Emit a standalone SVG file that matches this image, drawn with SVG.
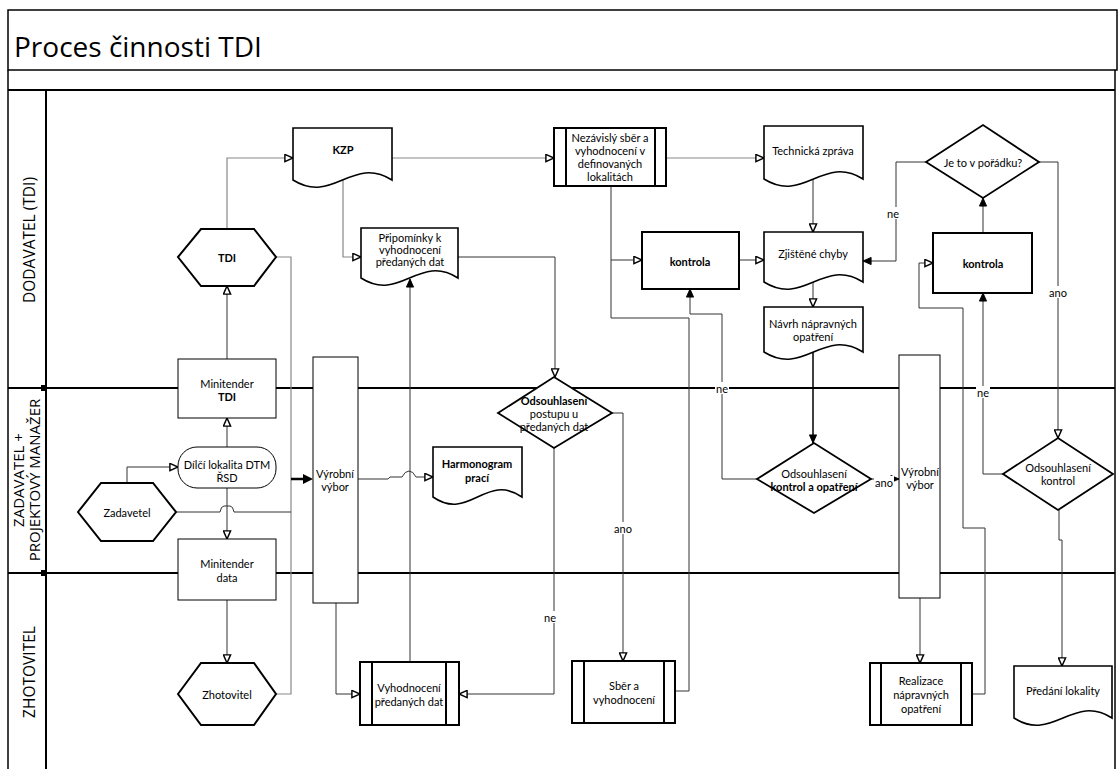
<svg xmlns="http://www.w3.org/2000/svg" width="1118" height="769" viewBox="0 0 1118 769">
<style>
.frame{fill:none;stroke:#000;stroke-width:1.5}
.lane{fill:none;stroke:#000;stroke-width:2}
.n{fill:#fff;stroke:#000;stroke-width:1}
.nb{fill:#fff;stroke:#000;stroke-width:2}
.doc{fill:#fff;stroke:#000;stroke-width:1.6}
.dia{fill:#fff;stroke:#000;stroke-width:1.8}
.c{fill:none;stroke:#333;stroke-width:1}
.cl{fill:none;stroke:#888;stroke-width:1.2}
.t{font-family:Lato,"Liberation Sans",sans-serif;font-size:11px;fill:#000;text-anchor:middle;dominant-baseline:central}
.b{font-weight:bold}
.lt{font-family:"Open Sans","Liberation Sans",sans-serif;font-size:15.5px;fill:#000;text-anchor:middle;dominant-baseline:central}
.lt2{font-family:"Open Sans","Liberation Sans",sans-serif;font-size:15px;fill:#000;text-anchor:middle;dominant-baseline:central}
.lbl{font-family:Lato,"Liberation Sans",sans-serif;font-size:11px;fill:#000;text-anchor:middle;dominant-baseline:central}
</style>
<defs>
<marker id="ao" viewBox="0 0 10 10" refX="10" refY="5" markerWidth="9" markerHeight="9" markerUnits="userSpaceOnUse" orient="auto"><path d="M1,1 L10,5 L1,9 Z" fill="#fff" stroke="#000" stroke-width="1.6"/></marker>
<marker id="af" viewBox="0 0 10 10" refX="10" refY="5" markerWidth="9" markerHeight="9" markerUnits="userSpaceOnUse" orient="auto"><path d="M1,1 L10,5 L1,9 Z" fill="#000" stroke="#000" stroke-width="1"/></marker>
</defs>
<rect width="1118" height="769" fill="#fff"/>
<g id="pool">
<rect class="frame" x="8" y="10" width="1109" height="60"/>
<text x="14" y="57" font-family="'Open Sans','Liberation Sans',sans-serif" font-size="28" fill="#000">Proces činnosti TDI</text>
<line class="frame" x1="8" y1="70" x2="8" y2="769"/>
<line class="frame" x1="1115" y1="70" x2="1115" y2="769"/>
<line class="lane" x1="8" y1="90" x2="1115" y2="90"/>
<line class="lane" x1="46" y1="90" x2="46" y2="769"/>
<line class="lane" x1="8" y1="388" x2="1115" y2="388"/>
<line class="lane" x1="8" y1="573" x2="1115" y2="573"/>
<rect x="41" y="385" width="6" height="6" fill="#000"/>
<rect x="41" y="570" width="6" height="6" fill="#000"/>
<text class="lt" transform="translate(29,240) rotate(-90)">DODAVATEL (TDI)</text>
<text class="lt2" transform="translate(18,480) rotate(-90)">ZADAVATEL +</text>
<text class="lt2" transform="translate(34,480) rotate(-90)">PROJEKTOVÝ MANAŽER</text>
<text class="lt" transform="translate(29,672) rotate(-90)">ZHOTOVITEL</text>
</g>
<g id="connectors">
<path class="cl" d="M227,229 V158 H293" marker-end="url(#ao)"/>
<path class="c" d="M227,359 V286" marker-end="url(#ao)"/>
<path class="c" d="M227,447 V418" marker-end="url(#ao)"/>
<path class="c" d="M227,488 V539" marker-end="url(#ao)"/>
<path class="c" d="M127,483 V467 H178" marker-end="url(#ao)"/>
<path class="c" d="M227,600 V663" marker-end="url(#ao)"/>
<path class="cl" d="M276,257 H291 V694 H276"/>
<path class="c" d="M176,512 H220 Q221,506 224,506 H230 Q233,506 234,512 H291"/>
<path fill="none" stroke="#000" stroke-width="2.5" d="M291,479 H306"/>
<path d="M303,474 L313,479 L303,484 Z" fill="#000"/>
<path class="c" d="M358,479 H388 L390,477 H402 Q405,471 409,471 Q413,471 416,477 H433" marker-end="url(#ao)"/>
<path class="c" d="M336,603 V694 H360" marker-end="url(#ao)"/>
<path class="c" d="M410,662 V279" marker-end="url(#af)"/>
<path class="cl" d="M343,180 V257 H361" marker-end="url(#ao)"/>
<path class="cl" d="M392,158 H554" marker-end="url(#ao)"/>
<path class="c" d="M458,257 H555 V377" marker-end="url(#ao)"/>
<path class="c" d="M612,413 H623 V661" marker-end="url(#ao)"/>
<path class="c" d="M554,448 V694 H459" marker-end="url(#ao)"/>
<path class="cl" d="M666,158 H764" marker-end="url(#ao)"/>
<path class="c" d="M611,186 V260 H642" marker-end="url(#ao)"/>
<path class="c" d="M675,691 H689 V318 H611 V260"/>
<path class="c" d="M757,479 H722 V314 H690 V289" marker-end="url(#af)"/>
<path class="c" d="M739,260 H764" marker-end="url(#ao)"/>
<path class="c" d="M813,179 V232" marker-end="url(#ao)"/>
<path class="c" d="M813,282 V307" marker-end="url(#ao)"/>
<path fill="none" stroke="#000" stroke-width="1.5" d="M813,352 V443" marker-end="url(#af)"/>
<path class="c" d="M871,479 H899" marker-end="url(#af)"/>
<path class="c" d="M920,598 V663" marker-end="url(#ao)"/>
<path class="c" d="M972,694 H985 V528 H963 V308 H919 V263 H933" marker-end="url(#ao)"/>
<path class="c" d="M983,233 V198" marker-end="url(#af)"/>
<path class="c" d="M926,162 H896 V261 H863" marker-end="url(#af)"/>
<path class="c" d="M1039,162 H1058 V438" marker-end="url(#ao)"/>
<path class="c" d="M1003,474 H983 V293" marker-end="url(#af)"/>
<path class="c" d="M1059,510 V540 H1062 V666" marker-end="url(#ao)"/>
<rect x="542" y="611" width="16" height="12" fill="#fff"/><text class="lbl" x="550" y="617">ne</text>
<rect x="612" y="522" width="22" height="12" fill="#fff"/><text class="lbl" x="623" y="528">ano</text>
<rect x="715" y="382" width="14" height="12" fill="#fff"/><text class="lbl" x="722" y="388">ne</text>
<rect x="874" y="476" width="20" height="12" fill="#fff"/><text class="lbl" x="884" y="482">ano</text>
<rect x="886" y="207" width="16" height="12" fill="#fff"/><text class="lbl" x="893" y="213">ne</text>
<rect x="1047" y="286" width="22" height="12" fill="#fff"/><text class="lbl" x="1058" y="292">ano</text>
<rect x="976" y="386" width="14" height="12" fill="#fff"/><text class="lbl" x="983" y="392">ne</text>
</g>
<g id="kzp"><path class="doc" d="M293,128 H392 V180 C352,155 333,205 293,180 Z"/><text class="t b" x="343" y="149">KZP</text></g>
<g id="nezavisly"><rect class="nb" x="554" y="128" width="112" height="58"/><line class="nb" x1="566" y1="128" x2="566" y2="186"/><line class="nb" x1="655" y1="128" x2="655" y2="186"/>
<text class="t" x="610" y="137">Nezávislý sběr a</text><text class="t" x="610" y="150">vyhodnocení v</text><text class="t" x="610" y="163">definovaných</text><text class="t" x="610" y="176">lokalitách</text></g>
<g id="technicka"><path class="doc" d="M764,126 H863 V179 C823,154 804,204 764,179 Z"/><text class="t" x="813" y="150">Technická zpráva</text></g>
<g id="je-to"><path class="dia" d="M926,162 L983,125 L1039,162 L983,198 Z"/><text class="t" x="983" y="162">Je to v pořádku?</text></g>
<g id="tdi"><path class="nb" d="M178,257 L201,229 H254 L276,257 L254,286 H201 Z"/><text class="t b" x="227" y="257">TDI</text></g>
<g id="pripominky"><path class="doc" d="M361,228 H458 V278 C419,253 400,303 361,278 Z"/><text class="t" x="410" y="237">Připomínky k</text><text class="t" x="410" y="249">vyhodnocení</text><text class="t" x="410" y="261">předaných dat</text></g>
<g id="kontrola-1"><rect class="nb" x="642" y="232" width="97" height="57"/><text class="t b" x="690" y="261">kontrola</text></g>
<g id="zjistene"><path class="doc" d="M764,232 H863 V282 C823,257 804,307 764,282 Z"/><text class="t" x="813" y="253">Zjištěné chyby</text></g>
<g id="kontrola-2"><rect class="nb" x="933" y="233" width="99" height="60"/><text class="t b" x="983" y="263">kontrola</text></g>
<g id="navrh"><path class="doc" d="M764,307 H863 V352 C823,327 804,377 764,352 Z"/><text class="t" x="813" y="323">Návrh nápravných</text><text class="t" x="813" y="336">opatření</text></g>
<g id="minitender-tdi"><rect class="n" x="178" y="359" width="98" height="59"/><text class="t" x="227" y="383">Minitender</text><text class="t b" x="227" y="396">TDI</text></g>
<g id="vyrobni-1"><rect class="n" x="313" y="357" width="45" height="246"/><text class="t" x="335" y="473">Výrobní</text><text class="t" x="335" y="486">výbor</text></g>
<g id="odsouhlaseni-postupu"><path class="dia" d="M498,413 L554,377 L612,413 L554,448 Z"/><text class="t b" x="554" y="400">Odsouhlasení</text><text class="t" x="554" y="413">postupu u</text><text class="t" x="554" y="426">předaných dat</text></g>
<g id="harmonogram"><path class="doc" d="M433,447 H522 V497 C486,472 469,522 433,497 Z"/><text class="t b" x="477" y="463">Harmonogram</text><text class="t b" x="477" y="477">prací</text></g>
<g id="dilci"><rect class="n" x="178" y="447" width="98" height="41" rx="19" stroke-width="1.6"/><text class="t" x="227" y="464">Dílčí lokalita DTM</text><text class="t" x="227" y="477">ŘSD</text></g>
<g id="zadavetel"><path class="nb" d="M78,512 L101,483 H153 L176,512 L153,541 H101 Z"/><text class="t" x="127" y="512">Zadavetel</text></g>
<g id="odsouhlaseni-kao"><path class="dia" d="M757,479 L814,443 L871,479 L814,513 Z"/><text class="t" x="814" y="473">Odsouhlasení</text><text class="t b" x="814" y="486">kontrol a opatření</text></g>
<g id="vyrobni-2"><rect class="n" x="899" y="355" width="41" height="243"/><text class="t" x="920" y="471">Výrobní</text><text class="t" x="920" y="484">výbor</text></g>
<g id="odsouhlaseni-kontrol"><path class="dia" d="M1003,474 L1058,438 L1113,474 L1058,510 Z"/><text class="t" x="1058" y="467">Odsouhlasení</text><text class="t" x="1058" y="480">kontrol</text></g>
<g id="minitender-data"><rect class="n" x="178" y="539" width="98" height="61"/><text class="t" x="227" y="563">Minitender</text><text class="t" x="227" y="577">data</text></g>
<g id="zhotovitel"><path class="nb" d="M178,694 L201,663 H254 L276,694 L254,725 H201 Z" stroke-width="1.5"/><text class="t" x="227" y="694">Zhotovitel</text></g>
<g id="vyhodnoceni"><rect class="nb" x="360" y="662" width="99" height="63"/><line class="nb" x1="372" y1="662" x2="372" y2="725"/><line class="nb" x1="446" y1="662" x2="446" y2="725"/><text class="t" x="409" y="687">Vyhodnocení</text><text class="t" x="409" y="701">předaných dat</text></g>
<g id="sber"><rect class="nb" x="572" y="661" width="103" height="62"/><line class="nb" x1="584" y1="661" x2="584" y2="723"/><line class="nb" x1="664" y1="661" x2="664" y2="723"/><text class="t" x="624" y="685">Sběr a</text><text class="t" x="624" y="699">vyhodnocení</text></g>
<g id="realizace"><rect class="nb" x="870" y="663" width="102" height="62"/><line class="nb" x1="881" y1="663" x2="881" y2="725"/><line class="nb" x1="961" y1="663" x2="961" y2="725"/><text class="t" x="921" y="680">Realizace</text><text class="t" x="921" y="694">nápravných</text><text class="t" x="921" y="708">opatření</text></g>
<g id="predani"><path class="doc" d="M1014,666 H1112 V718 C1073,693 1053,743 1014,718 Z"/><text class="t" x="1063" y="690">Předání lokality</text></g>
</svg>
